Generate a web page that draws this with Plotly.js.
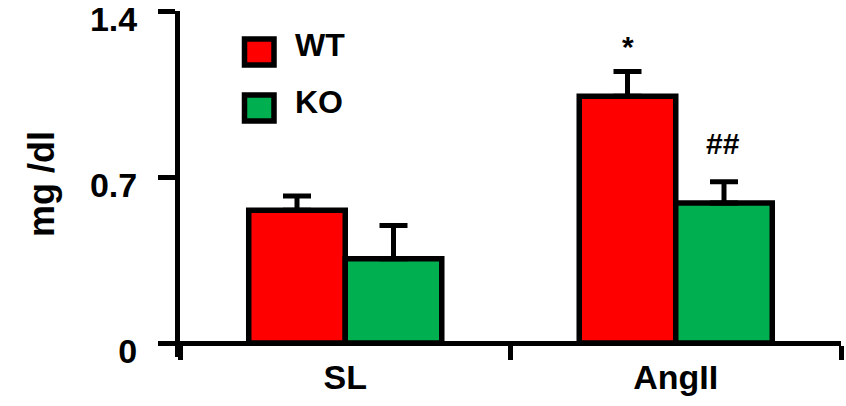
<!DOCTYPE html>
<html>
<head>
<meta charset="utf-8">
<script src="https://cdn.plot.ly/plotly-3.0.1.min.js"></script>
<style>html,body{margin:0;padding:0;background:#fff;}#chart{width:846px;height:406px;}</style>
</head>
<body>
<div id="chart"></div>
<script>
// ---- data ----
const categories = ["SL", "AngII"];
const wtValues = [0.56, 1.04];
const wtErrors = [0.06, 0.105];
const koValues = [0.355, 0.59];
const koErrors = [0.14, 0.09];
const seriesNames = ["WT", "KO"];
const yTickValues = [0, 0.7, 1.4];
const yTickLabels = ["0", "0.7", "1.4"];
const significance = [
  {category: "AngII", series: 0, label: "*"},
  {category: "AngII", series: 1, label: "##"}
];

// ---- layout geometry (pixels) ----
const W = 846, H = 406;
const M = {l: 180, r: 5, t: 11, b: 49};
const plotW = W - M.l - M.r, plotH = H - M.t - M.b;
const px = x => (x - M.l) / plotW;
const py = y => (H - M.b - y) / plotH;

const RED = "#FF0000", GREEN = "#00B050";
const FONT = "Arial, 'Liberation Sans', sans-serif";

const yMin = -0.059, yMax = 1.4;

function errOf(vals, errs) {
  return {type: "data", symmetric: false, array: errs, arrayminus: vals.map(() => 0),
          color: "#000", thickness: 5, width: 14, visible: true};
}

const traces = [
  {type: "bar", name: seriesNames[0], x: categories, y: wtValues,
   marker: {color: RED, line: {color: "#000", width: 5.5}},
   error_y: errOf(wtValues, wtErrors), hoverinfo: "skip"},
  {type: "bar", name: seriesNames[1], x: categories, y: koValues,
   marker: {color: GREEN, line: {color: "#000", width: 5.5}},
   error_y: errOf(koValues, koErrors), hoverinfo: "skip"}
];

const allVals = [wtValues, koValues], allErrs = [wtErrors, koErrors];
const annotations = significance.map(s => {
  const i = categories.indexOf(s.category);
  const top = allVals[s.series][i] + allErrs[s.series][i];
  return {x: s.category, y: top, xref: "x", yref: "y", text: "<b>" + s.label + "</b>", showarrow: false,
          xshift: s.series === 0 ? -48 : 47,
          yshift: s.label === "*" ? 25 : 38,
          font: {family: FONT, size: 30, color: "#000"}};
});

// legend built from shapes + text
const legendBoxes = [
  {color: RED, x0: 244.5, x1: 274, y0: 39, y1: 65, textY: 45},
  {color: GREEN, x0: 244.5, x1: 274, y0: 95, y1: 121, textY: 102}
];
const shapes = legendBoxes.map(b => ({type: "rect", xref: "paper", yref: "paper",
  x0: px(b.x0), x1: px(b.x1), y0: py(b.y1), y1: py(b.y0),
  fillcolor: b.color, line: {color: "#000", width: 5.5}}));
legendBoxes.forEach((b, i) => annotations.push({
  xref: "paper", yref: "paper", x: px(293), y: py(b.textY), xanchor: "left", yanchor: "middle",
  text: "<b>" + seriesNames[i] + "</b>", showarrow: false,
  font: {family: FONT, size: 32, color: "#000"}}));

const layout = {
  width: W, height: H,
  margin: M,
  paper_bgcolor: "#fff", plot_bgcolor: "#fff",
  showlegend: false,
  barmode: "group", bargap: 0.416, bargroupgap: 0,
  font: {family: FONT, color: "#000"},
  xaxis: {
    type: "category", range: [-0.5, 1.5],
    anchor: "free", position: (0 - yMin) / (yMax - yMin),
    showline: true, linecolor: "#000", linewidth: 5,
    ticks: "outside", tickson: "boundaries", ticklen: 14, tickwidth: 5, tickcolor: "#000",
    showgrid: false, zeroline: false,
    tickfont: {family: FONT, size: 34, color: "#000", weight: "bold"},
    ticklabelstandoff: 2
  },
  yaxis: {
    range: [yMin, yMax],
    tickvals: yTickValues, ticktext: yTickLabels,
    showline: true, linecolor: "#000", linewidth: 5,
    ticks: "outside", ticklen: 17, tickwidth: 5, tickcolor: "#000",
    showgrid: false, zeroline: false,
    tickfont: {family: FONT, size: 34, color: "#000", weight: "bold"},
    ticklabelstandoff: 14, ticklabelshift: 8, ticklabeloverflow: "allow",
    title: {text: "mg /dl", standoff: 26, font: {family: FONT, size: 36, color: "#000", weight: "bold"}}
  },
  shapes: shapes,
  annotations: annotations
};

Plotly.newPlot("chart", traces, layout, {displayModeBar: false, staticPlot: true});
</script>
</body>
</html>
